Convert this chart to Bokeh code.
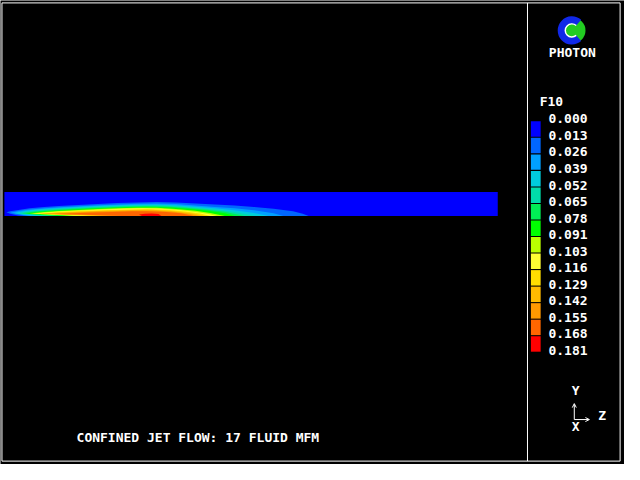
from bokeh.core.properties import value
from bokeh.models import Range1d, Span, Arrow, OpenHead
from bokeh.plotting import figure
from bokeh.embed import file_html
from bokeh.resources import INLINE

# ---------------- data ----------------
VARIABLE = "F10"
TITLE = "CONFINED JET FLOW: 17 FLUID MFM"
LOGO_TEXT = "PHOTON"
LEVEL_LABELS = ["0.000", "0.013", "0.026", "0.039", "0.052", "0.065", "0.078",
                "0.091", "0.103", "0.116", "0.129", "0.142", "0.155", "0.168", "0.181"]
BAND_COLORS = ["#0000FF", "#0066FF", "#00A0FF", "#00CCDD", "#00DDAA", "#00EE55", "#00FF00",
               "#BBFF00", "#FFFF33", "#FFDD00", "#FFBB00", "#FF9900", "#FF6600", "#FF0000"]
DOMAIN_LENGTH_MM = 506
DOMAIN_RADIUS_MM = 25

# outlines of regions F10 >= level k (k = 1..13): upper edge and lower edge, z (mm), r (mm)
UPPER_Z = [
    [2, 6, 16, 26, 41, 56, 76, 96, 116, 136, 156, 176, 196, 216, 236, 256, 276, 296, 306, 312],
    [6, 16, 26, 41, 56, 76, 96, 116, 136, 156, 176, 196, 216, 236, 256, 276, 286],
    [10, 21, 36, 56, 76, 96, 116, 136, 156, 176, 196, 216, 236, 256, 271],
    [14, 26, 41, 56, 76, 96, 116, 136, 156, 176, 196, 216, 236, 258],
    [18, 31, 46, 66, 86, 106, 126, 146, 166, 186, 206, 226, 246],
    [22, 36, 51, 71, 91, 111, 131, 151, 171, 191, 211, 226, 236],
    [26, 41, 56, 76, 96, 116, 136, 156, 176, 196, 211, 226],
    [29, 46, 61, 81, 101, 121, 141, 161, 181, 196, 208, 218],
    [33, 51, 66, 86, 106, 126, 146, 166, 186, 201, 211],
    [36, 56, 71, 91, 111, 131, 151, 171, 191, 206],
    [41, 61, 76, 96, 116, 136, 156, 176, 191, 200],
    [51, 71, 91, 111, 131, 146, 166, 181, 194],
    [138, 144, 151, 158, 161],
]
UPPER_R = [
    [4, 5, 6.5, 8, 9.5, 10.5, 11.5, 12.5, 13.5, 14, 14.5, 14, 13, 12, 11, 9.5, 7.5, 5, 2.5, 0],
    [3.5, 5.5, 6.8, 8.2, 9.2, 10.2, 11.2, 12, 12.7, 13, 12.5, 11, 9.5, 8, 6, 3, 0],
    [3.2, 5.2, 7, 8.4, 9.4, 10.4, 11.2, 11.8, 12, 11.3, 9.7, 8, 6, 3.2, 0],
    [3, 5, 6.5, 7.6, 8.7, 9.7, 10.4, 11, 11.1, 10.3, 8.5, 6.7, 4.3, 0],
    [2.8, 4.7, 6, 7.4, 8.4, 9.2, 10, 10.3, 10, 8.7, 6.7, 4.5, 0],
    [2.7, 4.5, 5.6, 6.8, 7.8, 8.6, 9.3, 9.5, 8.8, 7.3, 5.2, 3, 0],
    [2.6, 4.2, 5.2, 6.3, 7.2, 8, 8.6, 8.5, 7.4, 5.5, 3.3, 0],
    [2.5, 4, 4.9, 5.8, 6.7, 7.5, 8, 7.6, 6, 4.3, 2.3, 0],
    [2.5, 3.8, 4.6, 5.4, 6.2, 6.9, 7.3, 6.6, 4.7, 2.6, 0],
    [2.4, 3.6, 4.3, 5, 5.7, 6.3, 6.5, 5.3, 3.2, 0],
    [2.3, 3.3, 3.9, 4.6, 5.2, 5.7, 5.6, 4.2, 2.2, 0],
    [2.2, 3, 3.7, 4.3, 4.9, 5, 4.3, 2.8, 0],
    [1.5, 2.5, 2.7, 2.2, 0],
]
LOWER_Z = [
    [2, 6, 14, 20, 312],
    [6, 16, 26, 286],
    [10, 21, 34, 271],
    [14, 26, 41, 258],
    [18, 31, 51, 246],
    [22, 36, 61, 236],
    [26, 46, 71, 226],
    [29, 51, 81, 218],
    [33, 56, 91, 211],
    [36, 61, 101, 206],
    [41, 66, 111, 200],
    [51, 76, 121, 194],
    [138, 141, 161],
]
LOWER_R = [
    [4, 2.5, 0.5, 0, 0],
    [3.5, 1.5, 0, 0],
    [3.2, 1.2, 0, 0],
    [3, 1.5, 0, 0],
    [2.8, 1.5, 0, 0],
    [2.7, 1.6, 0, 0],
    [2.6, 1.5, 0, 0],
    [2.5, 1.5, 0, 0],
    [2.5, 1.5, 0, 0],
    [2.4, 1.5, 0, 0],
    [2.3, 1.5, 0, 0],
    [2.2, 1.5, 0, 0],
    [1.5, 0, 0],
]

# ---------------- layout ----------------
# the figure canvas represents a 640x480 "screen" of the original picture
W, H = 624, 464
SCREEN_W, SCREEN_H = 640, 480
STRIP_LEFT, AXIS_Y, SCREEN_PER_MM = 4, 223, 1.0
FONT = value("DejaVu Sans Mono")

p = figure(width=W, height=H, x_range=Range1d(0, SCREEN_W), y_range=Range1d(SCREEN_H, 0),
           output_backend="svg", toolbar_location=None, min_border=0,
           background_fill_color="black", border_fill_color="black",
           x_axis_location=None, y_axis_location=None, outline_line_color=None)
p.xgrid.visible = False
p.ygrid.visible = False

p.extra_x_ranges = {"z": Range1d((0 - STRIP_LEFT) / SCREEN_PER_MM, (SCREEN_W - STRIP_LEFT) / SCREEN_PER_MM)}
p.extra_y_ranges = {"r": Range1d((AXIS_Y - SCREEN_H) / SCREEN_PER_MM, (AXIS_Y - 0) / SCREEN_PER_MM)}

# domain (background band)
p.quad(left=[0], right=[DOMAIN_LENGTH_MM], bottom=[0], top=[DOMAIN_RADIUS_MM],
       fill_color=BAND_COLORS[0], line_color=None, x_range_name="z", y_range_name="r")

xs = [uz + lz[::-1] for uz, lz in zip(UPPER_Z, LOWER_Z)]
ys = [ur + lr[::-1] for ur, lr in zip(UPPER_R, LOWER_R)]
p.patches(xs=xs, ys=ys, fill_color=BAND_COLORS[1:len(xs) + 1], line_color=None,
          x_range_name="z", y_range_name="r")

# frame and divider
p.quad(left=[1.5], right=[635.5], top=[2.5], bottom=[476.5], fill_color=None,
       line_color="white", line_width=1)
p.segment(x0=[540.5], y0=[2.5], x1=[540.5], y1=[476.5], line_color="white", line_width=1)

# colour key
STEP = 17.1
n_bands = len(BAND_COLORS)
tops = [125 + STEP * k for k in range(n_bands)]
p.quad(left=544, right=554, top=tops, bottom=[t + 16 for t in tops],
       fill_color=BAND_COLORS, line_color=None)
p.text(x=[562] * len(LEVEL_LABELS), y=[122.5 + STEP * k for k in range(len(LEVEL_LABELS))],
       text=LEVEL_LABELS, text_color="white", text_font=FONT, text_font_style="bold",
       text_font_size="13px", text_baseline="middle", text_align="left")
p.text(x=[553], y=[104.5], text=[VARIABLE], text_color="white", text_font=FONT,
       text_font_style="bold", text_font_size="13px", text_baseline="middle")

# logo
p.circle(x=[587], y=[31], radius=13, fill_color="#22CC22", line_color=None)
p.annular_wedge(x=[586], y=[31], inner_radius=7, outer_radius=14.5,
                start_angle=0.85, end_angle=5.43, fill_color="#1028E8", line_color=None)
p.annular_wedge(x=[586], y=[31], inner_radius=6, outer_radius=7.5,
                start_angle=0.85, end_angle=5.43, fill_color="white", line_color=None)
p.text(x=[586.5], y=[54], text=[LOGO_TEXT], text_color="white", text_font=FONT,
       text_font_style="bold", text_font_size="13px", text_baseline="middle", text_align="center")

# title
p.text(x=[78], y=[452], text=[TITLE], text_color="white", text_font=FONT,
       text_font_style="bold", text_font_size="13px", text_baseline="middle")

# axis triad
p.add_layout(Arrow(x_start=588.5, y_start=433.5, x_end=588.5, y_end=417, line_color="white",
                   line_width=1, end=OpenHead(size=4, line_color="white", line_width=1)))
p.add_layout(Arrow(x_start=588.5, y_start=433.5, x_end=604, y_end=433.5, line_color="white",
                   line_width=1, end=OpenHead(size=4, line_color="white", line_width=1)))
p.text(x=[590, 617, 590], y=[403, 429, 441], text=["Y", "Z", "X"], text_color="white",
       text_font=FONT, text_font_style="bold", text_font_size="13px",
       text_baseline="middle", text_align="center")

open("out.html", "w").write(file_html(p, INLINE))
